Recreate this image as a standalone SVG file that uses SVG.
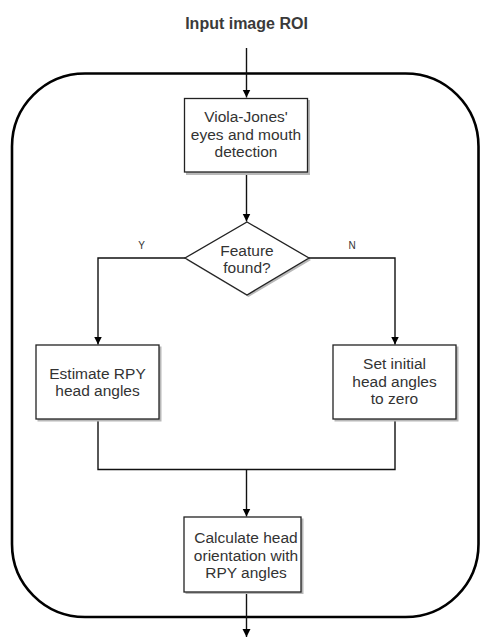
<svg xmlns="http://www.w3.org/2000/svg" width="481" height="638" viewBox="0 0 481 638">
  <style>
    .title { font-family: "Liberation Sans", Arial, sans-serif; font-size: 16px; font-weight: bold; fill: #3a3a3a; text-anchor: middle; }
    .label { font-family: "Liberation Sans", Arial, sans-serif; font-size: 15.5px; fill: #333333; text-anchor: middle; }
    .branch { font-family: "Liberation Sans", Arial, sans-serif; font-size: 10px; fill: #333333; text-anchor: middle; }
    .shape { fill: #ffffff; stroke: #222222; stroke-width: 1.3; }
    .shadow { fill: #b8b8b8; }
    .edge { fill: none; stroke: #111111; stroke-width: 1.4; }
    .frame { fill: none; stroke: #000000; stroke-width: 2.6; }
  </style>
  <defs>
    <marker id="arrow" viewBox="0 0 10 10" refX="10" refY="5" markerWidth="8" markerHeight="9" markerUnits="userSpaceOnUse" orient="auto">
      <path d="M0,0 L10,5 L0,10 Z" fill="#000000"/>
    </marker>
  </defs>

  <rect width="481" height="638" fill="#ffffff"/>

  <!-- enclosing process frame -->
  <rect class="frame" x="12" y="73.5" width="466.5" height="543.5" rx="73" ry="73"/>

  <g id="title">
    <text class="title" x="246.5" y="29">Input image ROI</text>
  </g>

  <g id="connectors">
    <line class="edge" x1="246.5" y1="48" x2="246.5" y2="97.5" marker-end="url(#arrow)"/>
    <line class="edge" x1="246.5" y1="172.5" x2="246.5" y2="221.5" marker-end="url(#arrow)"/>
    <polyline class="edge" points="185,258 98,258 98,344.5" marker-end="url(#arrow)"/>
    <polyline class="edge" points="309,258 395,258 395,344.5" marker-end="url(#arrow)"/>
    <polyline class="edge" points="98,419 98,469.5 395,469.5 395,419"/>
    <line class="edge" x1="246.5" y1="469.5" x2="246.5" y2="516.5" marker-end="url(#arrow)"/>
    <line class="edge" x1="246.5" y1="592" x2="246.5" y2="637" marker-end="url(#arrow)"/>
  </g>

  <g id="viola-jones">
    <rect class="shadow" x="186" y="100" width="124" height="75"/>
    <rect class="shape" x="184.5" y="98.5" width="123" height="73.5"/>
    <text class="label" x="246" y="122">Viola-Jones'</text>
    <text class="label" x="246" y="139.5">eyes and mouth</text>
    <text class="label" x="246" y="157">detection</text>
  </g>

  <g id="feature-found">
    <polygon class="shadow" points="248.5,224 311,260 248.5,297 186.5,260"/>
    <polygon class="shape" points="247,222 309,258 247,295 185,258"/>
    <text class="label" x="247" y="256">Feature</text>
    <text class="label" x="247" y="273">found?</text>
  </g>

  <g id="branch-labels">
    <text class="branch" x="141.5" y="249">Y</text>
    <text class="branch" x="352" y="249">N</text>
  </g>

  <g id="estimate-rpy">
    <rect class="shadow" x="37.5" y="346.5" width="124" height="75"/>
    <rect class="shape" x="36" y="345" width="123" height="74"/>
    <text class="label" x="97.5" y="379">Estimate RPY</text>
    <text class="label" x="97.5" y="396">head angles</text>
  </g>

  <g id="set-zero">
    <rect class="shadow" x="334.5" y="346.5" width="124" height="75"/>
    <rect class="shape" x="333" y="345" width="123" height="74"/>
    <text class="label" x="394.5" y="369">Set initial</text>
    <text class="label" x="394.5" y="386.5">head angles</text>
    <text class="label" x="394.5" y="404">to zero</text>
  </g>

  <g id="calculate-orientation">
    <rect class="shadow" x="185.5" y="518.5" width="118" height="75.5"/>
    <rect class="shape" x="184" y="517" width="117" height="75"/>
    <text class="label" x="246" y="543">Calculate head</text>
    <text class="label" x="246" y="560.5">orientation with</text>
    <text class="label" x="246" y="578">RPY angles</text>
  </g>
</svg>
